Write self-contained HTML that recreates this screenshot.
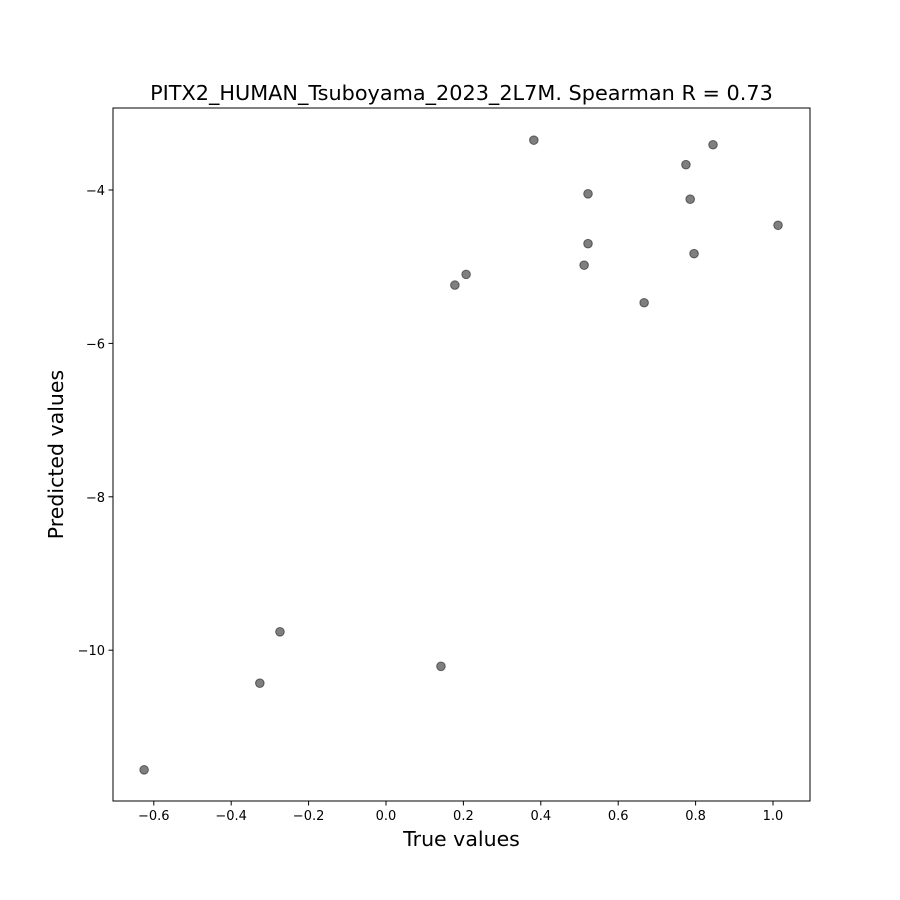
<!DOCTYPE html>
<html><head><meta charset="utf-8"><style>
body{margin:0;background:#fff}
svg{display:block;font-family:"DejaVu Sans","Liberation Sans",sans-serif}
</style></head><body>
<svg id="chart" width="900" height="900">
<rect width="900" height="900" fill="#fff"/>
<text x="461.5" y="100" font-size="20.8" text-anchor="middle">PITX2_HUMAN_Tsuboyama_2023_2L7M. Spearman R = 0.73</text>
<text x="461.5" y="846" font-size="20.5" text-anchor="middle">True values</text>
<text transform="translate(63,454.5) rotate(-90)" font-size="20.5" text-anchor="middle">Predicted values</text>
<g id="ticks"></g>
<g id="points"></g>
<rect x="113" y="108" width="697" height="693" fill="none" stroke="#000" stroke-width="1"/>
</svg>
<script>
const trueValues=[-0.625,-0.326,-0.274,0.142,0.178,0.207,0.382,0.512,0.522,0.522,0.667,0.775,0.786,0.796,0.845,1.013];
const predValues=[-11.56,-10.43,-9.76,-10.21,-5.24,-5.10,-3.35,-4.98,-4.05,-4.70,-5.47,-3.67,-4.12,-4.83,-3.41,-4.46];
const xTicks=[-0.6,-0.4,-0.2,0.0,0.2,0.4,0.6,0.8,1.0];
const xTickLabels=["−0.6","−0.4","−0.2","0.0","0.2","0.4","0.6","0.8","1.0"];
const yTicks=[-4,-6,-8,-10];
const yTickLabels=["−4","−6","−8","−10"];
const L=113,R=810,T=108,B=801,x0=-0.7054,x1=1.0956,y0=-11.966,y1=-2.931;
const sx=v=>L+(v-x0)/(x1-x0)*(R-L);
const sy=v=>B-(v-y0)/(y1-y0)*(B-T);
const NS="http://www.w3.org/2000/svg";
const tg=document.getElementById('ticks'),pg=document.getElementById('points');
function mk(tag,attrs,parent){const e=document.createElementNS(NS,tag);for(const k in attrs)e.setAttribute(k,attrs[k]);parent.appendChild(e);return e;}
xTicks.forEach((v,i)=>{
  const l=mk('line',{x1:sx(v),x2:sx(v),y1:B,y2:B+4.5,stroke:'#000'},tg);
  
  
  const t=mk('text',{x:sx(v),y:B+19,'font-size':13,'text-anchor':'middle'},tg);
  t.textContent=xTickLabels[i];
  
  
});
yTicks.forEach((v,i)=>{
  const l=mk('line',{x1:L-4.5,x2:L,y1:sy(v),y2:sy(v),stroke:'#000'},tg);
  
  
  const t=mk('text',{x:L-8,y:sy(v)+5,'font-size':13,'text-anchor':'end'},tg);
  t.textContent=yTickLabels[i];
  
  
});
trueValues.forEach((v,i)=>{
  const c=mk('circle',{cx:sx(v),cy:sy(predValues[i]),r:4.3,fill:'rgba(0,0,0,0.5)',stroke:'rgba(0,0,0,0.5)','stroke-width':1},pg);
  
  
});
</script>
</body></html>
